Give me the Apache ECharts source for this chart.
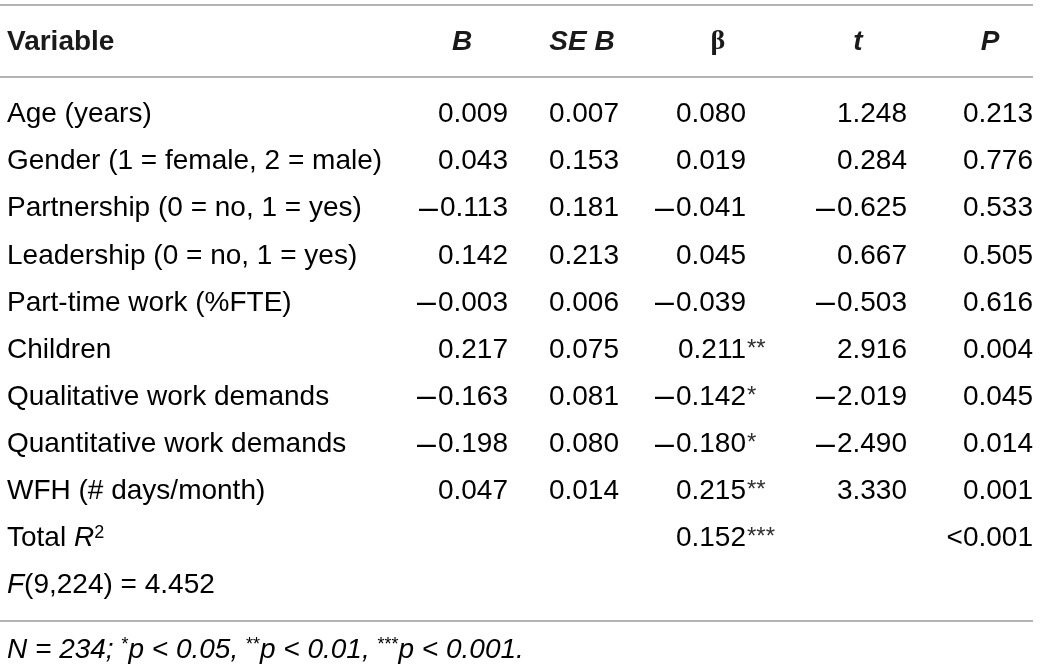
<!DOCTYPE html>
<html>
<head>
<meta charset="UTF-8" />
<title>Regression table</title>
<script src="https://cdn.jsdelivr.net/npm/echarts@6/dist/echarts.min.js"></script>
<style>
  html, body { margin: 0; padding: 0; background: #fff; }
  #main { width: 1040px; height: 669px; }
</style>
</head>
<body>
<div id="main"></div>
<script>
// table values, one entry per row
var variables = ['Age (years)', 'Gender (1 = female, 2 = male)', 'Partnership (0 = no, 1 = yes)',
  'Leadership (0 = no, 1 = yes)', 'Part-time work (%FTE)', 'Children', 'Qualitative work demands',
  'Quantitative work demands', 'WFH (# days/month)', 'Total R2', 'F(9,224) = 4.452'];
var bVals    = [0.009, 0.043, -0.113, 0.142, -0.003, 0.217, -0.163, -0.198, 0.047, null, null];
var seVals   = [0.007, 0.153, 0.181, 0.213, 0.006, 0.075, 0.081, 0.080, 0.014, null, null];
var betaVals = [0.080, 0.019, -0.041, 0.045, -0.039, 0.211, -0.142, -0.180, 0.215, 0.152, null];
var betaSig  = ['', '', '', '', '', '**', '*', '*', '**', '***', ''];
var tVals    = [1.248, 0.284, -0.625, 0.667, -0.503, 2.916, -2.019, -2.490, 3.330, null, null];
var pVals    = [0.213, 0.776, 0.533, 0.505, 0.616, 0.004, 0.045, 0.014, 0.001, '<0.001', null];
var headers  = ['Variable', 'B', 'SE B', 'β', 't', 'P'];

// layout
var FONT = 'Liberation Sans, Arial, Helvetica, sans-serif';
var INK = '#303030';
var COL_X = { name: 7, b: 508, se: 619, beta: 746, t: 907, p: 1033 };
var HEAD_X = [7, 462, 582, 718, 858, 990];
var RULE = '#9a9a9a';

var rich = {
  n: { fontFamily: FONT, fontSize: 28, color: INK },
  i: { fontFamily: FONT, fontSize: 28, fontStyle: 'italic', color: INK },
  m: { fontFamily: FONT, fontSize: 34, color: INK, padding: [0, 2, 0, 0] },
  sup: { fontFamily: FONT, fontSize: 18, color: INK, verticalAlign: 'top' }
};

function fmt(v) {
  if (v === null || v === undefined) return '';
  if (typeof v === 'string') return '{n|' + v + '}';
  // long dash for negative values, like the typeset table
  return (v < 0 ? '{m|\u2013}' : '') + '{n|' + Math.abs(v).toFixed(3) + '}';
}

function nameText(i) {
  if (i === 9) return '{n|Total }{i|R}{sup|2}';
  if (i === 10) return '{i|F}{n|(9,224) = 4.452}';
  return '{n|' + variables[i] + '}';
}

function cell(x, y, str, align) {
  return {
    type: 'text', x: x, y: y,
    style: { text: str, rich: rich, align: align || 'right', verticalAlign: 'middle' }
  };
}

var myChart = echarts.init(document.getElementById('main'));

var graphics = [
  { type: 'line', shape: { x1: 0, y1: 5, x2: 1033, y2: 5 }, style: { stroke: RULE, lineWidth: 1.5 } },
  { type: 'line', shape: { x1: 0, y1: 77, x2: 1033, y2: 77 }, style: { stroke: RULE, lineWidth: 1.5 } },
  { type: 'line', shape: { x1: 0, y1: 621, x2: 1033, y2: 621 }, style: { stroke: RULE, lineWidth: 1.5 } },
  {
    type: 'text', x: 7, y: 650,
    style: {
      text: '{i|N = 234; }{sup|*}{i|p < 0.05, }{sup|**}{i|p < 0.01, }{sup|***}{i|p < 0.001.}',
      rich: rich, verticalAlign: 'middle', align: 'left'
    }
  }
];
headers.forEach(function (h, k) {
  var isBeta = (h === 'β');
  graphics.push({
    type: 'text', x: HEAD_X[k], y: 42,
    style: {
      text: h,
      fontFamily: isBeta ? 'Liberation Serif, serif' : FONT,
      fontSize: 28,
      fontWeight: 'bold',
      fontStyle: (k === 0 || isBeta) ? 'normal' : 'italic',
      fill: '#1a1a1a',
      align: k === 0 ? 'left' : 'center',
      verticalAlign: 'middle'
    }
  });
});

myChart.setOption({
  animation: false,
  grid: { left: 0, right: 0, top: 91, bottom: 60 },
  xAxis: { type: 'value', min: 0, max: 1040, show: false },
  yAxis: { type: 'category', inverse: true, data: variables, show: false },
  graphic: graphics,
  series: [{
    type: 'custom',
    silent: true,
    data: variables.map(function (v, i) { return [0, i]; }),
    encode: { x: 0, y: 1 },
    renderItem: function (params, api) {
      var i = api.value(1);
      var y = api.coord([0, i])[1];
      var cx = function (v) { return api.coord([v, i])[0]; };
      var kids = [
        cell(cx(COL_X.name), y, nameText(i), 'left'),
        cell(cx(COL_X.b), y, fmt(bVals[i])),
        cell(cx(COL_X.se), y, fmt(seVals[i])),
        cell(cx(COL_X.beta), y, fmt(betaVals[i])),
        cell(cx(COL_X.t), y, fmt(tVals[i])),
        cell(cx(COL_X.p), y, fmt(pVals[i]))
      ];
      if (betaSig[i]) {
        kids.push({ type: 'text', x: cx(COL_X.beta) + 1, y: y - 1,
          style: { text: betaSig[i], fontFamily: FONT, fontSize: 24, fill: INK, align: 'left', verticalAlign: 'middle' } });
      }
      return { type: 'group', children: kids };
    }
  }]
});
</script>
</body>
</html>
